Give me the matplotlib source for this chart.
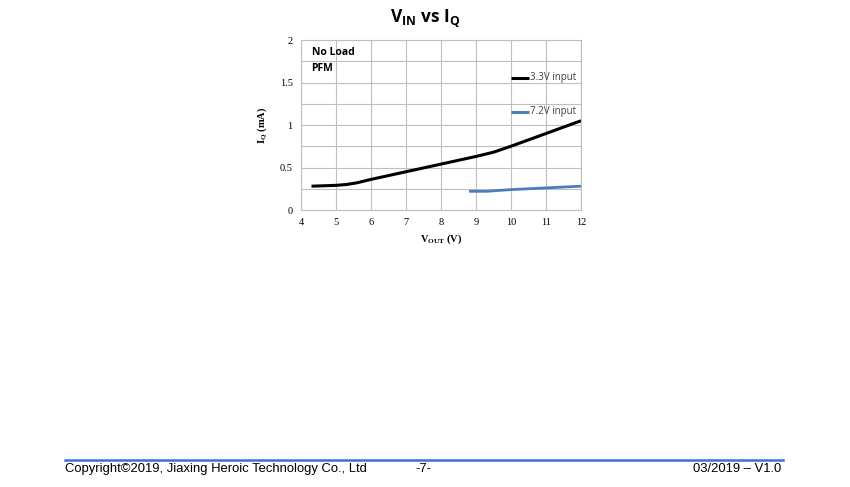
import matplotlib
matplotlib.use("Agg")
import matplotlib.pyplot as plt
from matplotlib.ticker import MultipleLocator

plt.rcParams['mathtext.fontset'] = 'custom'
plt.rcParams['mathtext.rm'] = 'Liberation Serif:bold'
plt.rcParams['mathtext.bf'] = 'Open Sans:bold'

# Data
vout_33 = [4.3, 5.0, 5.3, 5.6, 6.0, 7.0, 8.0, 9.0, 9.5, 10.0, 11.0, 12.0]
iq_33 = [0.28, 0.29, 0.30, 0.32, 0.36, 0.45, 0.54, 0.63, 0.68, 0.75, 0.90, 1.05]
vout_72 = [8.8, 9.3, 10.0, 11.0, 12.0]
iq_72 = [0.22, 0.22, 0.24, 0.26, 0.28]
series_labels = ["3.3V input", "7.2V input"]
x_ticks = [4, 5, 6, 7, 8, 9, 10, 11, 12]
y_ticks = [0, 0.5, 1, 1.5, 2]
y_tick_labels = ["0", "0.5", "1", "1.5", "2"]

fig = plt.figure(figsize=(8.5, 4.87), dpi=100)
ax = fig.add_axes([301/850, 1-210/487, 280/850, 170/487])

grid_c = '#bfbfbf'
ax.set_xlim(4, 12)
ax.set_ylim(0, 2)
ax.set_xticks(x_ticks)
ax.set_yticks(y_ticks)
ax.set_yticklabels(y_tick_labels)
ax.yaxis.set_minor_locator(MultipleLocator(0.25))
ax.grid(True, which='both', color=grid_c, linewidth=0.8)
ax.set_axisbelow(True)
for s in ax.spines.values():
    s.set_color(grid_c)
    s.set_linewidth(0.8)
ax.tick_params(which='both', length=0, labelsize=7.5, pad=6)
for lab in ax.get_xticklabels() + ax.get_yticklabels():
    lab.set_family('Liberation Serif')

ax.plot(vout_33, iq_33, color='black', linewidth=2.2, solid_capstyle='butt', solid_joinstyle='round')
ax.plot(vout_72, iq_72, color='#4a7ebb', linewidth=2.0, solid_capstyle='butt', solid_joinstyle='round')

# legend entries placed manually inside the plot area
lx0, lx1 = 10.0, 10.5
for yv, col, lab in [(1.553, 'black', series_labels[0]), (1.153, '#4a7ebb', series_labels[1])]:
    ax.plot([lx0, lx1], [yv, yv], color=col, linewidth=2.2, solid_capstyle='butt')
    ax.text(lx1 + 0.03, yv, lab, fontsize=7, va='center', ha='left', family='Open Sans', color='#404040')

ax.text(4.3, 1.85, "No Load", fontsize=7.5, fontweight='bold', family='Open Sans', va='center')
ax.text(4.3, 1.67, "PFM", fontsize=7.5, fontweight='bold', family='Open Sans', va='center')

ax.set_xlabel(r"V$_{\mathrm{OUT}}$ (V)", fontsize=7.5, fontweight='bold', family='Liberation Serif', labelpad=4)
ax.set_ylabel(r"I$_{\mathrm{Q}}$ (mA)", fontsize=7.5, fontweight='bold', family='Liberation Serif', labelpad=8)

fig.text(0.5, 1-18/487, r"V$_{\mathbf{IN}}$ vs I$_{\mathbf{Q}}$", fontsize=12.5, fontweight='bold',
         family='Open Sans', ha='center', va='center')

# footer
fig.add_artist(plt.Line2D([65/850, 783/850], [1-460/487, 1-460/487], color='#3c6ee0', linewidth=1.8))
fig.text(65/850, 1-469/487, "Copyright\u00a92019, Jiaxing Heroic Technology Co., Ltd", fontsize=9.4,
         family='Liberation Sans', ha='left', va='center')
fig.text(423/850, 1-469/487, "-7-", fontsize=9.4, family='Liberation Sans', ha='center', va='center')
fig.text(781/850, 1-469/487, "03/2019 \u2013 V1.0", fontsize=9.4, family='Liberation Sans', ha='right', va='center')

fig.savefig("out.png", dpi=100)
